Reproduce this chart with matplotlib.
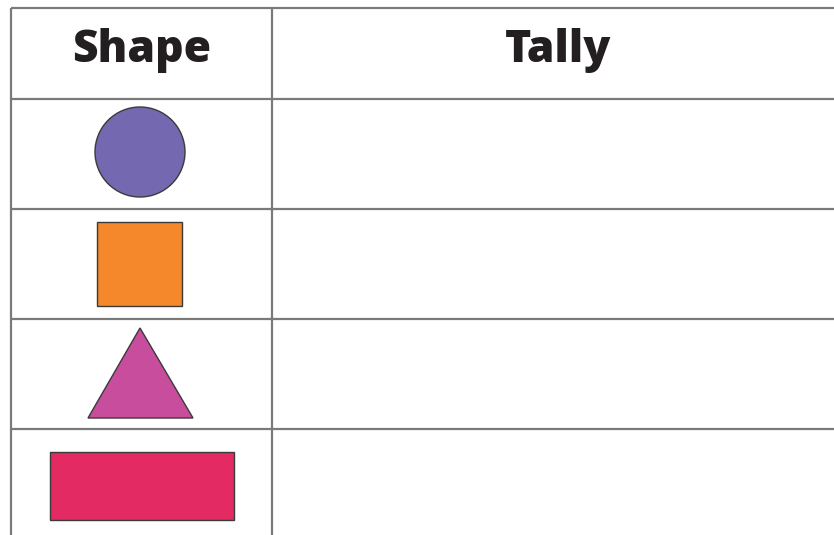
import matplotlib.pyplot as plt
from matplotlib.patches import Circle, Rectangle, Polygon

# Table content
headers = ['Shape', 'Tally']
shapes = ['circle', 'square', 'triangle', 'rectangle']
shape_colors = ['#7469b1', '#f5882b', '#c84e9d', '#e32a62']
tallies = ['', '', '', '']

# layout in pixels
W, H = 834, 535
left, divider = 11, 272
top, header_h, row_h = 8, 91, 110
line_col = '#7a7a7a'
edge_col = '#3a3a3a'

fig = plt.figure(figsize=(W / 100, H / 100), dpi=100)
ax = fig.add_axes([0, 0, 1, 1])
ax.set_xlim(0, W)
ax.set_ylim(H, 0)
ax.axis('off')

# grid lines
row_lines = [top, top + header_h] + [top + header_h + row_h * (i + 1) for i in range(len(shapes))]
for y in row_lines:
    ax.plot([left, W + 5], [y, y], color=line_col, lw=1.6, solid_capstyle='butt')
for x in [left, divider]:
    ax.plot([x, x], [top, H + 5], color=line_col, lw=1.6, solid_capstyle='butt')

# headers
col_centers = [(left + divider) / 2, (divider + 845) / 2]
for cx, txt in zip(col_centers, headers):
    ax.text(cx, top + header_h / 2 - 3, txt, ha='center', va='center',
            fontsize=32, fontweight='heavy', family=['Open Sans', 'DejaVu Sans'], color='#231f20')

# shapes in rows
cx = 140
for i, (kind, col) in enumerate(zip(shapes, shape_colors)):
    cy = top + header_h + row_h * i + row_h / 2
    if kind == 'circle':
        p = Circle((cx, cy - 2), 45)
    elif kind == 'square':
        p = Rectangle((cx - 43, cy - 42), 85, 84)
    elif kind == 'triangle':
        p = Polygon([(cx, cy - 46), (cx + 53, cy + 44), (cx - 52, cy + 44)], closed=True)
    else:
        p = Rectangle((cx - 90, cy - 32), 184, 68)
    p.set_facecolor(col)
    p.set_edgecolor(edge_col)
    p.set_linewidth(1.0)
    ax.add_patch(p)

fig.savefig('out.png', dpi=100, facecolor='white')
